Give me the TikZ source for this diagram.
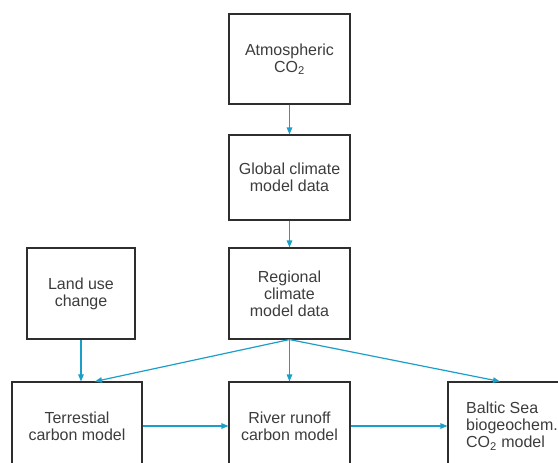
\documentclass[tikz,border=0pt]{standalone}
\usepackage{fontspec}
\setmainfont{Liberation Sans}
\usepackage{xcolor}
\definecolor{flowBlue} {HTML}{1A9FC8}
\definecolor{boxLine}  {HTML}{2E2E2E}
\definecolor{textGrey} {HTML}{3C3C3C}
\usetikzlibrary{arrows.meta, positioning, calc}

\begin{document}
\begin{tikzpicture}[x=1pt, y=-1pt,
    box/.style={draw=boxLine, line width=1.1pt, text=textGrey, align=center,
        minimum width=121pt, font=\fontsize{16}{17}\selectfont, inner sep=2pt},
    flow/.style={draw=flowBlue, line width=1.2pt, -{Triangle[length=7pt, width=5.5pt]}}]
    % Page frame, cut at the bottom and right edges like the original scan.
    \useasboundingbox (0,0) rectangle (558,463);
    \clip (0,0) rectangle (558,463);

    % --- Climate chain (middle column) ---
    \node[box, minimum height=90pt] (atmco) at (289.5,59)
        {Atmospheric\\CO\textsubscript{2}};
    \node[box, minimum height=85pt] (globclim) at (289.5,177.5)
        {Global climate\\model data};
    \node[box, minimum height=91pt] (regclim) at (289.5,293.5)
        {Regional\\climate\\model data};

    % --- Land use input (left) ---
    \node[box, minimum width=108pt, minimum height=91pt] (landuse) at (81,293.5)
        {Land use\\change};

    % --- Carbon models (bottom row) ---
    \node[box, minimum width=130pt, minimum height=88pt] (terrcarb) at (77,426)
        {Terrestial\\carbon model};
    \node[box, minimum height=88pt] (rivcarb) at (289.5,426)
        {River runoff\\carbon model};
    \node[box, minimum width=128pt, minimum height=88pt, align=left] (baltsea) at (512,426)
        {Baltic Sea\\biogeochem.\\CO\textsubscript{2} model};

    % --- Arrows ---
    \coordinate (terrin) at ($(terrcarb.north)+(18,0)$);
    \coordinate (baltin) at ($(baltsea.north)+(-12,0)$);
    \draw[flow] (atmco) -- (globclim);
    \draw[flow] (globclim) -- (regclim);
    \draw[flow] (landuse.south) -- (landuse.south |- terrcarb.north);
    \draw[flow] (regclim.south) -- (terrin);
    \draw[flow] (regclim.south) -- (rivcarb.north);
    \draw[flow] (regclim.south) -- (baltin);
    \draw[flow] (terrcarb) -- (rivcarb);
    \draw[flow] (rivcarb) -- (baltsea);
\end{tikzpicture}
\end{document}
